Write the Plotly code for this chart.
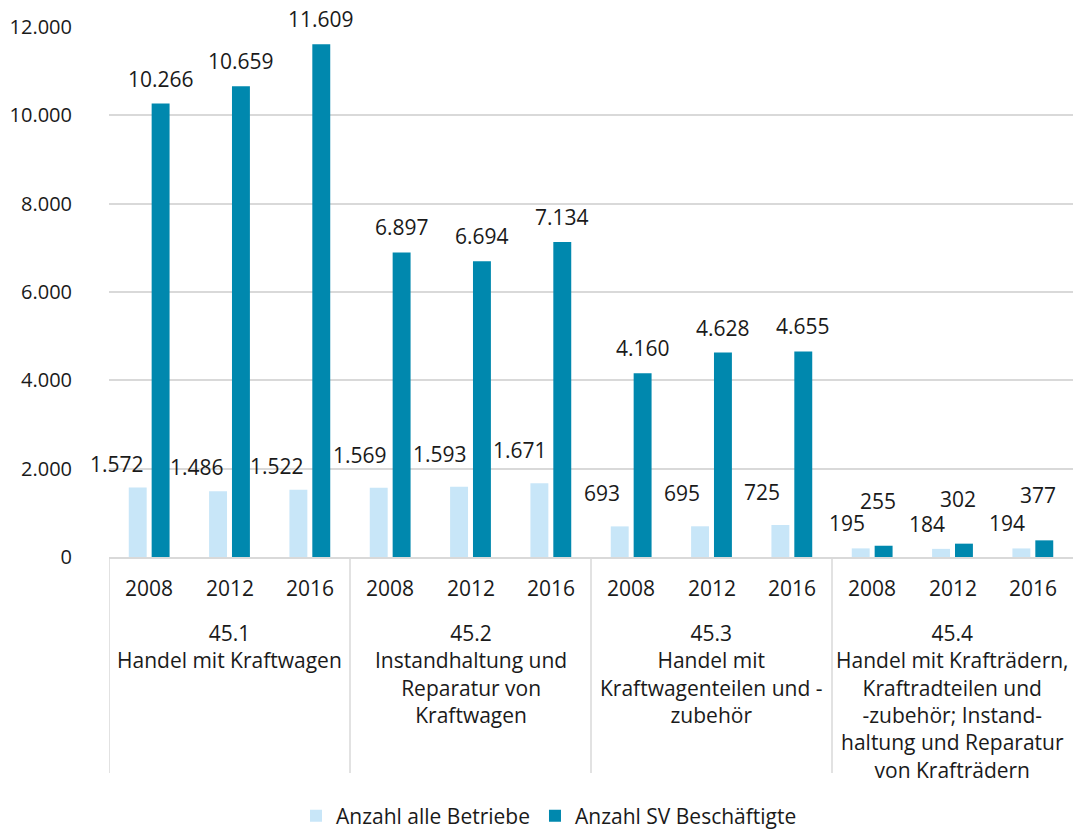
import plotly.graph_objects as go

# Wirtschaftszweige (WZ 45) und Stichjahre
groups = [
    "45.1<br>Handel mit Kraftwagen",
    "45.2<br>Instandhaltung und<br>Reparatur von<br>Kraftwagen",
    "45.3<br>Handel mit<br>Kraftwagenteilen und -<br>zubehör",
    "45.4<br>Handel mit Krafträdern,<br>Kraftradteilen und<br>-zubehör; Instand-<br>haltung und Reparatur<br>von Krafträdern",
]
years = ["2008", "2012", "2016"]

betriebe = [1572, 1486, 1522, 1569, 1593, 1671, 693, 695, 725, 195, 184, 194]
beschaeftigte = [10266, 10659, 11609, 6897, 6694, 7134, 4160, 4628, 4655, 255, 302, 377]

LIGHT = "#c8e6f8"
DARK = "#0088ae"
GRID = "#d9d9d9"
TEXT = "#1a1a1a"
FONT = "Open Sans"
FS = 21
FS_TICK = 20

W, H = 1073, 829
M_L, M_R, M_T, M_B = 109, 0, 27, 272
PLOT_H = H - M_T - M_B

BARGAP = 0.43
BARGROUPGAP = 0.217
half = (1 - BARGAP) / 4  # offset of each bar centre from its slot centre

slots = list(range(len(betriebe)))


def fmt(v):
    return f"{v:,}".replace(",", ".")


def py(px_below_axis):
    """paper-y for a pixel distance below the plot baseline"""
    return -px_below_axis / PLOT_H


fig = go.Figure()
fig.add_trace(go.Bar(x=slots, y=betriebe, name="Anzahl alle Betriebe",
                     marker=dict(color=LIGHT, line=dict(width=0))))
fig.add_trace(go.Bar(x=slots, y=beschaeftigte, name="Anzahl SV Beschäftigte",
                     marker=dict(color=DARK, line=dict(width=0))))

annotations = []

# value labels (pixel shifts per group keep the labels clear of each other)
light_shift = [(-21, 24), (-19, 33), (-18, 33), (-14, 25)]
dark_shift = [(0, 25), (0, 25), (0, 25), (-6, 45)]
for i in slots:
    g = i // 3
    dx, dy = light_shift[g]
    annotations.append(dict(x=i - half, y=betriebe[i], xref="x", yref="y",
                            text=fmt(betriebe[i]), showarrow=False,
                            xanchor="center", yanchor="middle",
                            xshift=dx, yshift=dy,
                            font=dict(family=FONT, size=FS, color=TEXT)))
    dx, dy = dark_shift[g]
    annotations.append(dict(x=i + half, y=beschaeftigte[i], xref="x", yref="y",
                            text=fmt(beschaeftigte[i]), showarrow=False,
                            xanchor="center", yanchor="middle",
                            xshift=dx, yshift=dy,
                            font=dict(family=FONT, size=FS, color=TEXT)))

# year labels
for i in slots:
    annotations.append(dict(x=i, y=py(31), xref="x", yref="paper",
                            text=years[i % 3], showarrow=False,
                            xanchor="center", yanchor="middle",
                            font=dict(family=FONT, size=FS, color=TEXT)))

# group labels
for g, label in enumerate(groups):
    annotations.append(dict(x=g * 3 + 1, y=py(60), xref="x", yref="paper",
                            text=label, showarrow=False, align="center",
                            xanchor="center", yanchor="top",
                            font=dict(family=FONT, size=FS, color=TEXT)))

# group dividers below the category axis
shapes = []
for g in range(len(groups)):
    shapes.append(dict(type="line", xref="x", yref="paper",
                       x0=g * 3 - 0.5, x1=g * 3 - 0.5, y0=0, y1=py(216),
                       line=dict(color=GRID, width=1.5)))

fig.update_layout(
    width=W, height=H,
    margin=dict(l=M_L, r=M_R, t=M_T, b=M_B, autoexpand=False),
    paper_bgcolor="white", plot_bgcolor="white",
    barmode="group", bargap=BARGAP, bargroupgap=BARGROUPGAP,
    separators=",.",
    font=dict(family=FONT, size=FS, color=TEXT),
    xaxis=dict(range=[-0.5, len(slots) - 0.5], showticklabels=False,
               showgrid=False, zeroline=False, ticks="",
               showline=True, linecolor=GRID, linewidth=1.5, fixedrange=True),
    yaxis=dict(range=[0, 12000], tickvals=[0, 2000, 4000, 6000, 8000, 10000, 12000],
               tickformat=",d", showgrid=True, gridcolor=GRID, gridwidth=1.5,
               zeroline=False, showline=False, ticks="",
               ticklabelstandoff=36,
               tickfont=dict(family=FONT, size=FS_TICK, color=TEXT)),
    legend=dict(orientation="h", x=(296 - M_L) / (W - M_L - M_R), xanchor="left",
                y=py(259), yanchor="middle",
                font=dict(family=FONT, size=FS, color=TEXT), traceorder="normal"),
    annotations=annotations,
    shapes=shapes,
)

fig.write_html("out.html")
